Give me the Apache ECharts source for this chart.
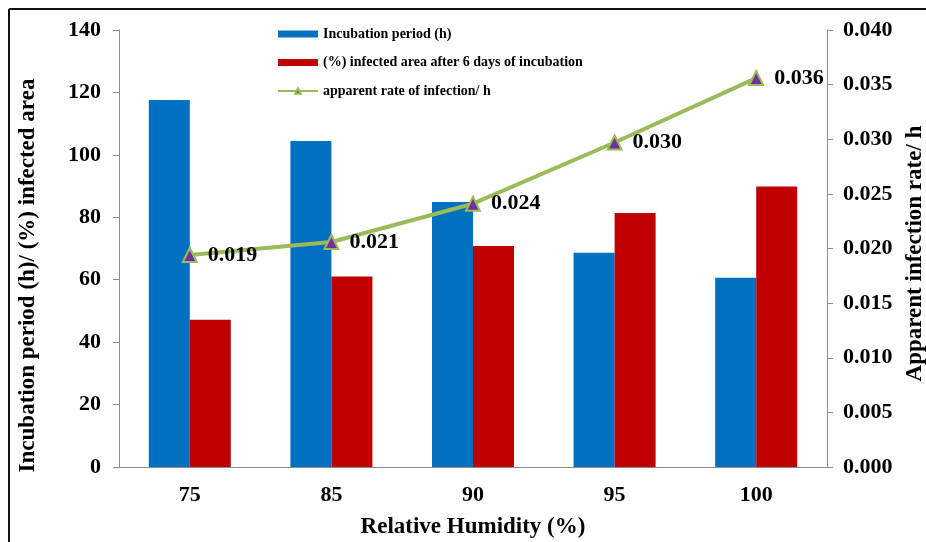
<!DOCTYPE html>
<html>
<head>
<meta charset="utf-8">
<script src="https://cdn.jsdelivr.net/npm/echarts@6/dist/echarts.min.js"></script>
<style>
  html, body { margin: 0; padding: 0; background: #fff; }
  #main { width: 926px; height: 542px; }
</style>
</head>
<body>
<div id="main"></div>
<script>
// data
var humidity = ["75", "85", "90", "95", "100"];
var incubation = [117.6, 104.4, 84.9, 68.6, 60.6];
var infectedArea = [47.2, 61.0, 70.8, 81.4, 89.9];
var infectionRate = [0.0194, 0.0206, 0.0241, 0.0297, 0.0356];
var rateLabels = ["0.019", "0.021", "0.024", "0.030", "0.036"];
var leftTicks = [0, 20, 40, 60, 80, 100, 120, 140];
var rightTicks = ["0.000", "0.005", "0.010", "0.015", "0.020", "0.025", "0.030", "0.035", "0.040"];

var font = "Liberation Serif";
var myChart = echarts.init(document.getElementById("main"));

var option = {
  backgroundColor: "#fff",
  animation: false,
  textStyle: { fontFamily: font },
  graphic: [
    // frame at top/left like the reference
    { type: "line", shape: { x1: 9, y1: 9, x2: 926, y2: 9 }, style: { stroke: "#111", lineWidth: 2 } },
    { type: "line", shape: { x1: 9, y1: 9, x2: 9, y2: 542 }, style: { stroke: "#111", lineWidth: 2 } }
  ],
  legend: {
    orient: "vertical",
    left: 272,
    top: 22,
    itemGap: 14.5,
    itemWidth: 40,
    itemHeight: 7,
    textStyle: { fontFamily: font, fontWeight: "bold", fontSize: 14, color: "#000" },
    data: [
      { name: "Incubation period (h)", icon: "rect" },
      { name: "(%) infected area after 6 days of incubation", icon: "rect" },
      { name: "apparent rate of infection/ h" }
    ]
  },
  grid: { left: 119, right: 99, top: 30, bottom: 75, outerBoundsMode: "none" },
  xAxis: {
    type: "category",
    data: humidity,
    name: "Relative Humidity (%)",
    nameLocation: "middle",
    nameGap: 49,
    nameTextStyle: { fontFamily: font, fontWeight: "bold", fontSize: 23, color: "#000" },
    axisLine: { lineStyle: { color: "#8c8c8c", width: 1 } },
    axisTick: { show: false },
    axisLabel: { fontFamily: font, fontWeight: "bold", fontSize: 22, color: "#000", margin: 17 }
  },
  yAxis: [
    {
      type: "value",
      min: 0,
      max: 140,
      interval: 20,
      name: "Incubation period (h)/ (%) infected area",
      nameLocation: "middle",
      nameGap: 79,
      nameTextStyle: { fontFamily: font, fontWeight: "bold", fontSize: 23, color: "#000", padding: [0, 54, 0, 0] },
      axisLine: { show: true, lineStyle: { color: "#8c8c8c" } },
      axisTick: { show: true, length: 6, lineStyle: { color: "#8c8c8c" } },
      splitLine: { show: false },
      axisLabel: {
        fontFamily: font, fontWeight: "bold", fontSize: 22, color: "#000", margin: 18,
        formatter: function (v) { return leftTicks.indexOf(v) >= 0 ? String(v) : ""; }
      }
    },
    {
      type: "value",
      min: 0,
      max: 0.04,
      interval: 0.005,
      name: "Apparent infection rate/ h",
      nameLocation: "middle",
      nameGap: 73,
      nameRotate: 90,
      nameTextStyle: { fontFamily: font, fontWeight: "bold", fontSize: 23, color: "#000", padding: [0, 10, 0, 0] },
      axisLine: { show: true, lineStyle: { color: "#8c8c8c" } },
      axisTick: { show: true, length: 6, lineStyle: { color: "#8c8c8c" } },
      splitLine: { show: false },
      axisLabel: {
        fontFamily: font, fontWeight: "bold", fontSize: 22, color: "#000", margin: 16,
        formatter: function (v) { return rightTicks[Math.round(v / 0.005)]; }
      }
    }
  ],
  series: [
    {
      name: "Incubation period (h)",
      type: "bar",
      data: incubation,
      barWidth: 41,
      barGap: "0%",
      itemStyle: { color: "#0070C0" }
    },
    {
      name: "(%) infected area after 6 days of incubation",
      type: "bar",
      data: infectedArea,
      barWidth: 41,
      barGap: "0%",
      itemStyle: { color: "#C00000" }
    },
    {
      name: "apparent rate of infection/ h",
      type: "line",
      yAxisIndex: 1,
      data: infectionRate,
      symbol: "triangle",
      symbolSize: 14,
      lineStyle: { color: "#9BBB59", width: 4 },
      itemStyle: { color: "#7030A0", borderColor: "#9BBB59", borderWidth: 2 },
      label: {
        show: true,
        position: "right",
        distance: 10,
        fontFamily: font,
        fontWeight: "bold",
        fontSize: 22,
        color: "#000",
        formatter: function (p) { return rateLabels[p.dataIndex]; }
      },
      z: 5
    }
  ]
};

myChart.setOption(option);
window.addEventListener("resize", function () {
  myChart.resize();
});
</script>
</body>
</html>
